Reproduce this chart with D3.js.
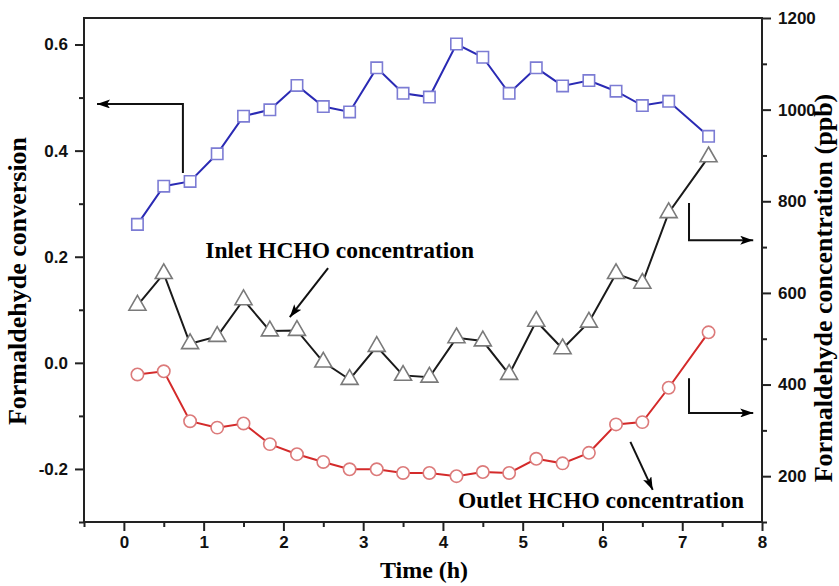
<!DOCTYPE html>
<html>
<head>
<meta charset="utf-8">
<script src="https://cdn.jsdelivr.net/npm/d3@7"></script>
<style>
  body { margin: 0; background: #fff; }
  .tick text { font-family: "Liberation Sans", Arial, sans-serif; font-weight: bold; font-size: 17px; }
  .title { font-family: "Liberation Serif", "Times New Roman", serif; font-weight: bold; font-size: 26px; }
  .note { font-family: "Liberation Serif", "Times New Roman", serif; font-weight: bold; font-size: 23.5px; }
</style>
</head>
<body>
<svg id="chart" width="839" height="586"></svg>
<script>
// time points (h)
const times = [0.17, 0.5, 0.83, 1.17, 1.5, 1.83, 2.17, 2.5, 2.83, 3.17, 3.5, 3.83,
  4.17, 4.5, 4.83, 5.17, 5.5, 5.83, 6.17, 6.5, 6.83, 7.33];
// formaldehyde conversion (left axis)
const conversion = [0.261, 0.333, 0.342, 0.394, 0.465, 0.477, 0.523, 0.483, 0.473, 0.556, 0.508, 0.501,
  0.601, 0.576, 0.508, 0.556, 0.522, 0.532, 0.512, 0.485, 0.493, 0.427];
// inlet HCHO concentration, ppb (right axis)
const inlet = [573, 642, 489, 505, 585, 517, 518, 449, 411, 483, 420, 416,
  502, 495, 422, 538, 478, 536, 642, 621, 775, 897];
// outlet HCHO concentration, ppb (right axis)
const outlet = [422, 429, 320, 306, 315, 270, 248, 231, 215, 215, 207, 207,
  200, 209, 207, 238, 228, 251, 313, 318, 393, 514];

const xTicks = [0, 1, 2, 3, 4, 5, 6, 7, 8];
const leftTicks = [-0.2, 0.0, 0.2, 0.4, 0.6];
const rightTicks = [200, 400, 600, 800, 1000, 1200];

const svg = d3.select('#chart');
const plotL = 84, plotR = 762, plotT = 18, plotB = 522;

const x = d3.scaleLinear().domain([-0.5, 8]).range([plotL, plotR]);
const yL = d3.scaleLinear().domain([-0.3, 0.65]).range([plotB, plotT]);
const yR = d3.scaleLinear().domain([100, 1200]).range([plotB, plotT]);

// arrowhead
svg.append('defs').append('marker')
  .attr('id', 'arrow')
  .attr('viewBox', '0 0 13 9')
  .attr('refX', 13).attr('refY', 4.5)
  .attr('markerWidth', 13).attr('markerHeight', 9)
  .attr('markerUnits', 'userSpaceOnUse')
  .attr('orient', 'auto')
  .append('path').attr('d', 'M0,0 L13,4.5 L0,9 L3,4.5 Z').attr('fill', '#000');

// frame
svg.append('rect')
  .attr('x', plotL).attr('y', plotT)
  .attr('width', plotR - plotL).attr('height', plotB - plotT)
  .attr('fill', 'none').attr('stroke', '#222').attr('stroke-width', 2);

function styleAxis(g) {
  g.select('.domain').remove();
  g.selectAll('.tick line').attr('stroke', '#222').attr('stroke-width', 2);
  g.selectAll('.tick text').attr('fill', '#111');
}

// x axis
svg.append('g').attr('transform', 'translate(0,' + plotB + ')')
  .call(d3.axisBottom(x).tickValues(xTicks).tickFormat(d3.format('d')).tickSize(9).tickPadding(5))
  .call(styleAxis);
svg.append('g').attr('transform', 'translate(0,' + plotB + ')')
  .call(d3.axisBottom(x).tickValues(d3.range(-0.5, 8, 1)).tickFormat('').tickSize(5))
  .call(styleAxis);

// left axis
svg.append('g').attr('transform', 'translate(' + plotL + ',0)')
  .call(d3.axisLeft(yL).tickValues(leftTicks).tickFormat(d => d.toFixed(1)).tickSize(9).tickPadding(7))
  .call(styleAxis);
svg.append('g').attr('transform', 'translate(' + plotL + ',0)')
  .call(d3.axisLeft(yL).tickValues([-0.3, -0.1, 0.1, 0.3, 0.5]).tickFormat('').tickSize(5))
  .call(styleAxis);

// right axis
svg.append('g').attr('transform', 'translate(' + plotR + ',0)')
  .call(d3.axisRight(yR).tickValues(rightTicks).tickFormat(d3.format('d')).tickSize(9).tickPadding(7))
  .call(styleAxis);
svg.append('g').attr('transform', 'translate(' + plotR + ',0)')
  .call(d3.axisRight(yR).tickValues([100, 300, 500, 700, 900, 1100]).tickFormat('').tickSize(5))
  .call(styleAxis);

// axis titles
svg.append('text').attr('class', 'title')
  .attr('x', 424).attr('y', 578).style('font-size', '24px')
  .attr('text-anchor', 'middle').text('Time (h)');
svg.append('text').attr('class', 'title')
  .attr('transform', 'translate(26,281) rotate(-90)')
  .attr('text-anchor', 'middle').text('Formaldehyde conversion');
svg.append('text').attr('class', 'title')
  .attr('transform', 'translate(832,288) rotate(-90)')
  .attr('text-anchor', 'middle').text('Formaldehyde concentration (ppb)');

// series
function drawSeries(vals, yScale, lineColor, markColor, shape, size) {
  const pts = times.map((t, i) => [x(t), yScale(vals[i])]);
  svg.append('path')
    .attr('d', d3.line()(pts))
    .attr('fill', 'none').attr('stroke', lineColor).attr('stroke-width', 2);
  const sym = d3.symbol().type(shape).size(size);
  svg.append('g').selectAll('path')
    .data(pts).enter().append('path')
    .attr('transform', d => 'translate(' + d[0] + ',' + d[1] + ')')
    .attr('d', sym)
    .attr('fill', '#fff').attr('stroke', markColor).attr('stroke-width', 1.6);
}

drawSeries(conversion, yL, '#2a2ab4', '#7c7cd4', d3.symbolSquare, 130);
drawSeries(inlet, yR, '#1a1a1a', '#7a7a7a', d3.symbolTriangle, 125);
drawSeries(outlet, yR, '#d42a2a', '#dc7a7a', d3.symbolCircle, 120);

// annotations (data coordinates)
const line = d3.line();
function arrow(points, yScale) {
  svg.append('path')
    .attr('d', line(points.map(p => [x(p[0]), yScale(p[1])])))
    .attr('fill', 'none').attr('stroke', '#111').attr('stroke-width', 2)
    .attr('marker-end', 'url(#arrow)');
}
arrow([[0.74, 0.358], [0.74, 0.488], [-0.337, 0.488]], yL);
arrow([[2.56, 654], [2.08, 547]], yR);
arrow([[7.085, 796], [7.085, 715], [7.89, 715]], yR);
arrow([[7.085, 414], [7.085, 338], [7.89, 338]], yR);
arrow([[6.35, 275], [6.63, 170]], yR);

svg.append('text').attr('class', 'note')
  .attr('x', x(1.02)).attr('y', yR(676)).text('Inlet HCHO concentration');
svg.append('text').attr('class', 'note')
  .attr('x', x(4.19)).attr('y', yR(131)).text('Outlet HCHO concentration');
</script>
</body>
</html>
